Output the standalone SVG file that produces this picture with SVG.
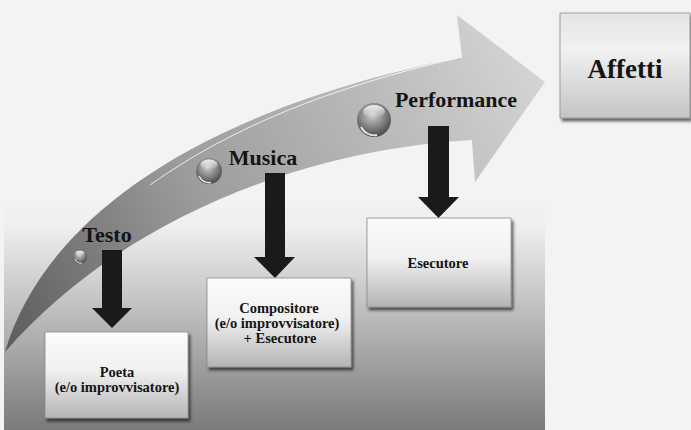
<svg xmlns="http://www.w3.org/2000/svg" width="691" height="430" viewBox="0 0 691 430">
<defs>
<style>
text{font-family:'Liberation Serif','DejaVu Serif',serif;font-weight:bold;fill:#141414;text-anchor:middle}
.big{font-size:22px}
.small{font-size:14.5px}
.box{stroke:#8c8c8c;stroke-width:0.8}
.darr{fill:#1a1a1a}
</style>
<linearGradient id="panel" x1="0" y1="200" x2="0" y2="430" gradientUnits="userSpaceOnUse">
<stop offset="0" stop-color="#f3f3f3"/>
<stop offset="0.12" stop-color="#eeeeee"/>
<stop offset="1" stop-color="#7a7a7a"/>
</linearGradient>
<linearGradient id="arrowFill" x1="0" y1="350" x2="545" y2="60" gradientUnits="userSpaceOnUse">
<stop offset="0" stop-color="#5a5a5a"/>
<stop offset="0.4" stop-color="#9c9c9c"/>
<stop offset="0.75" stop-color="#bdbdbd"/>
<stop offset="1" stop-color="#d6d6d6"/>
</linearGradient>
<linearGradient id="boxFill" x1="0" y1="0" x2="0" y2="1">
<stop offset="0" stop-color="#fbfbfb"/>
<stop offset="0.45" stop-color="#f1f1f1"/>
<stop offset="1" stop-color="#b4b4b4"/>
</linearGradient>
<linearGradient id="affFill" x1="0" y1="0" x2="0" y2="1">
<stop offset="0" stop-color="#e4e4e4"/>
<stop offset="0.35" stop-color="#f1f1f1"/>
<stop offset="1" stop-color="#c4c4c4"/>
</linearGradient>
<radialGradient id="sphere" cx="0.45" cy="0.35" r="0.65">
<stop offset="0" stop-color="#d0d0d0"/>
<stop offset="0.5" stop-color="#8c8c8c"/>
<stop offset="1" stop-color="#4a4a4a"/>
</radialGradient>
<linearGradient id="gloss" x1="0" y1="0" x2="0" y2="1">
<stop offset="0" stop-color="#ffffff" stop-opacity="0.85"/>
<stop offset="1" stop-color="#ffffff" stop-opacity="0"/>
</linearGradient>
<filter id="shadow" x="-10%" y="-10%" width="125%" height="130%">
<feGaussianBlur in="SourceAlpha" stdDeviation="1.5"/>
<feOffset dx="1.5" dy="2.5" result="b"/>
<feComponentTransfer><feFuncA type="linear" slope="0.6"/></feComponentTransfer>
<feMerge><feMergeNode/><feMergeNode in="SourceGraphic"/></feMerge>
</filter>
</defs>

<g id="background">
<rect x="0" y="0" width="691" height="430" fill="#f3f3f3"/>
<rect x="4" y="200" width="541" height="230" fill="url(#panel)"/>
</g>

<g id="process-arrow">
<path d="M5,352 C40,232 175,115 462,57 L457,15 L545,82 L475,182 L472,140 C300,150 120,220 5,352 Z" fill="url(#arrowFill)"/>
<path d="M150,185 C230,128 330,87 462,57" fill="none" stroke="#ffffff" stroke-opacity="0.8" stroke-width="1"/>
</g>

<g id="spheres">
<g id="sphere-testo">
<circle cx="80" cy="257" r="7" fill="url(#sphere)"/>
<ellipse cx="80" cy="253.5" rx="4.5" ry="2.8" fill="url(#gloss)"/>
<path d="M75,259 A5.5,5.5 0 0 0 82,263" fill="none" stroke="#fff" stroke-width="1" stroke-opacity="0.8"/>
</g>
<g id="sphere-musica">
<circle cx="209" cy="171" r="13" fill="url(#sphere)"/>
<ellipse cx="209" cy="164.5" rx="8.5" ry="5" fill="url(#gloss)"/>
<path d="M199,176 A11,11 0 0 0 211,182.5" fill="none" stroke="#fff" stroke-width="1.5" stroke-opacity="0.85"/>
</g>
<g id="sphere-performance">
<circle cx="374" cy="120" r="17" fill="url(#sphere)"/>
<ellipse cx="374" cy="111.5" rx="11" ry="6.5" fill="url(#gloss)"/>
<path d="M361,127 A14.5,14.5 0 0 0 377,135" fill="none" stroke="#fff" stroke-width="1.8" stroke-opacity="0.85"/>
</g>
</g>

<g id="connectors">
<polygon class="darr" points="102,250 122,250 122,308 132,308 112,328 92,308 102,308"/>
<polygon class="darr" points="265,173 285,173 285,257 295,257 275,278 254,257 265,257"/>
<polygon class="darr" points="428,126 449,126 449,197 459,197 438.5,218 418,197 428,197"/>
</g>

<g id="label-testo"><text class="big" x="107" y="242" font-family="Liberation Serif, DejaVu Serif, serif">Testo</text></g>
<g id="label-musica"><text class="big" x="263" y="165" font-family="Liberation Serif, DejaVu Serif, serif">Musica</text></g>
<g id="label-performance"><text class="big" x="456" y="107" font-family="Liberation Serif, DejaVu Serif, serif">Performance</text></g>

<g id="node-affetti">
<rect class="box" x="560" y="13" width="130" height="105" fill="url(#affFill)" filter="url(#shadow)"/>
<text x="625" y="78" font-size="27" font-family="Liberation Serif, DejaVu Serif, serif">Affetti</text>
</g>

<g id="node-poeta">
<rect class="box" x="45" y="332" width="143" height="86" fill="url(#boxFill)" filter="url(#shadow)"/>
<text class="small" x="117" y="377" font-family="Liberation Serif, DejaVu Serif, serif">Poeta</text>
<text class="small" x="117" y="392" font-family="Liberation Serif, DejaVu Serif, serif">(e/o improvvisatore)</text>
</g>

<g id="node-compositore">
<rect class="box" x="207" y="278" width="144" height="89" fill="url(#boxFill)" filter="url(#shadow)"/>
<text class="small" x="279" y="313" font-family="Liberation Serif, DejaVu Serif, serif">Compositore</text>
<text class="small" x="277" y="328" font-family="Liberation Serif, DejaVu Serif, serif">(e/o improvvisatore)</text>
<text class="small" x="280" y="343" font-family="Liberation Serif, DejaVu Serif, serif">+ Esecutore</text>
</g>

<g id="node-esecutore">
<rect class="box" x="367" y="218" width="144" height="89" fill="url(#boxFill)" filter="url(#shadow)"/>
<text class="small" x="438" y="268" font-family="Liberation Serif, DejaVu Serif, serif">Esecutore</text>
</g>
</svg>
